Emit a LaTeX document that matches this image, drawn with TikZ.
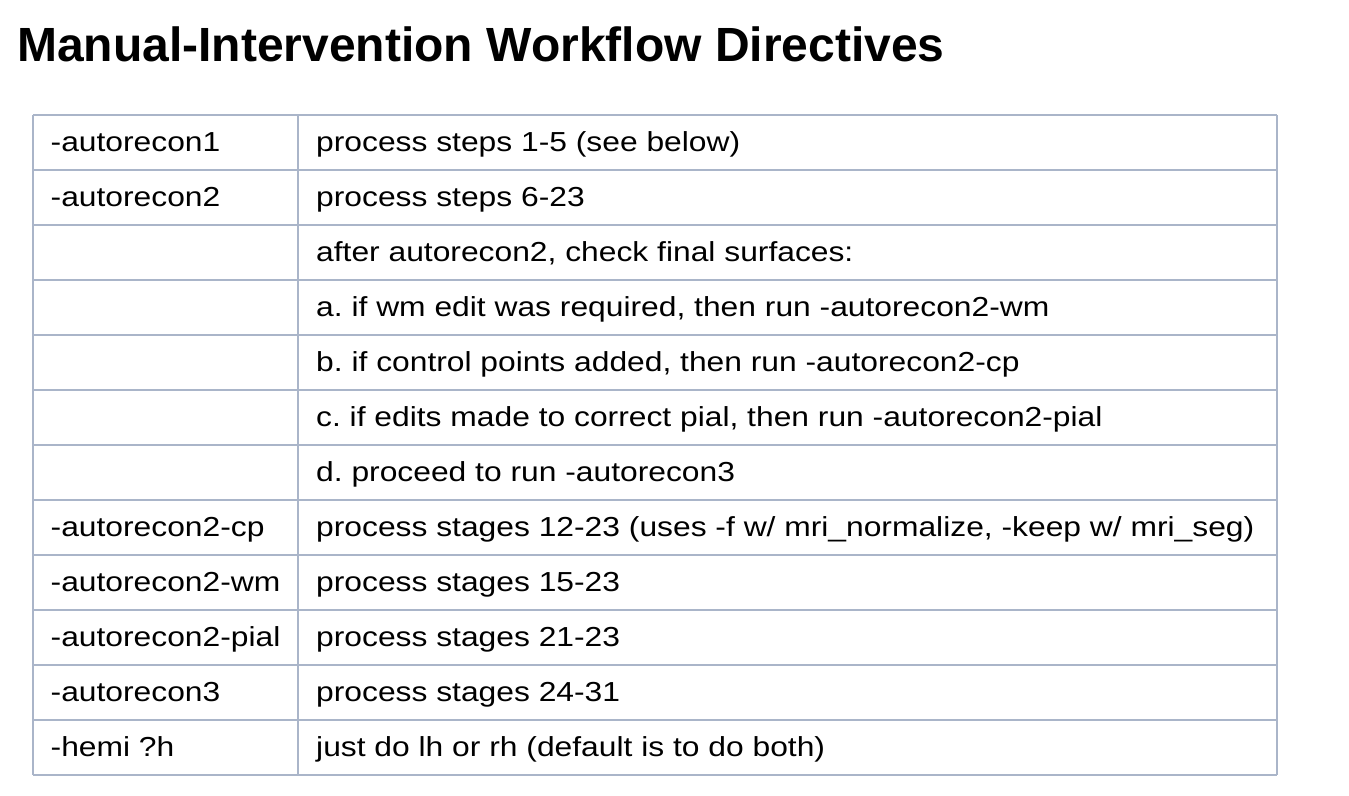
\documentclass[tikz,border=0pt]{standalone}
\usepackage{fontspec}
\setmainfont{Liberation Sans}
\newfontfamily\bodyfont[FakeStretch=1.156]{Liberation Sans}
\newfontfamily\titlefont{Liberation Sans}
\definecolor{gridcol}{RGB}{170,181,201}
\frenchspacing
\begin{document}
\begin{tikzpicture}[x=1pt,y=1pt,
  celltxt/.style={anchor=base west,inner sep=0pt,font=\bodyfont\fontsize{27.5}{30}\selectfont,text=black},
  titletxt/.style={anchor=base west,inner sep=0pt,font=\titlefont\bfseries\fontsize{48}{52}\selectfont,text=black},
  gridline/.style={draw=gridcol,line width=1.6pt}]
\useasboundingbox (0,0) rectangle (1349,-795);
\fill[white] (0,0) rectangle (1349,-795);
\node[titletxt] (title) at (17,-61.7) {Manual-Intervention Workflow Directives};
% grid
\foreach \i in {0,...,12} {
  \draw[gridline] (33,{-115-55*\i}) -- (1277,{-115-55*\i});
}
\draw[gridline] (33,-115) -- (33,-775);
\draw[gridline] (298,-115) -- (298,-775);
\draw[gridline] (1277,-115) -- (1277,-775);
% left column
\node[celltxt] (l1) at (50.5,-151.7) {-autorecon1};
\node[celltxt] (l2) at (50.5,-206.7) {-autorecon2};
\node[celltxt] (l8) at (50.5,-536.7) {-autorecon2-cp};
\node[celltxt] (l9) at (50.5,-591.7) {-autorecon2-wm};
\node[celltxt] (l10) at (50.5,-646.7) {-autorecon2-pial};
\node[celltxt] (l11) at (50.5,-701.7) {-autorecon3};
\node[celltxt] (l12) at (50.5,-756.7) {-hemi ?h};
% right column
\node[celltxt] (r1) at (316,-151.7) {process steps 1-5 (see below)};
\node[celltxt] (r2) at (316,-206.7) {process steps 6-23};
\node[celltxt] (r3) at (316,-261.7) {after autorecon2, check final surfaces:};
\node[celltxt] (r4) at (316,-316.7) {a. if wm edit was required, then run -autorecon2-wm};
\node[celltxt] (r5) at (316,-371.7) {b. if control points added, then run -autorecon2-cp};
\node[celltxt] (r6) at (316,-426.7) {c. if edits made to correct pial, then run -autorecon2-pial};
\node[celltxt] (r7) at (316,-481.7) {d. proceed to run -autorecon3};
\node[celltxt] (r8) at (316,-536.7) {process stages 12-23 (uses -f w/ mri\_normalize, -keep w/ mri\_seg)};
\node[celltxt] (r9) at (316,-591.7) {process stages 15-23};
\node[celltxt] (r10) at (316,-646.7) {process stages 21-23};
\node[celltxt] (r11) at (316,-701.7) {process stages 24-31};
\node[celltxt] (r12) at (316,-756.7) {just do lh or rh (default is to do both)};
\end{tikzpicture}
\end{document}
